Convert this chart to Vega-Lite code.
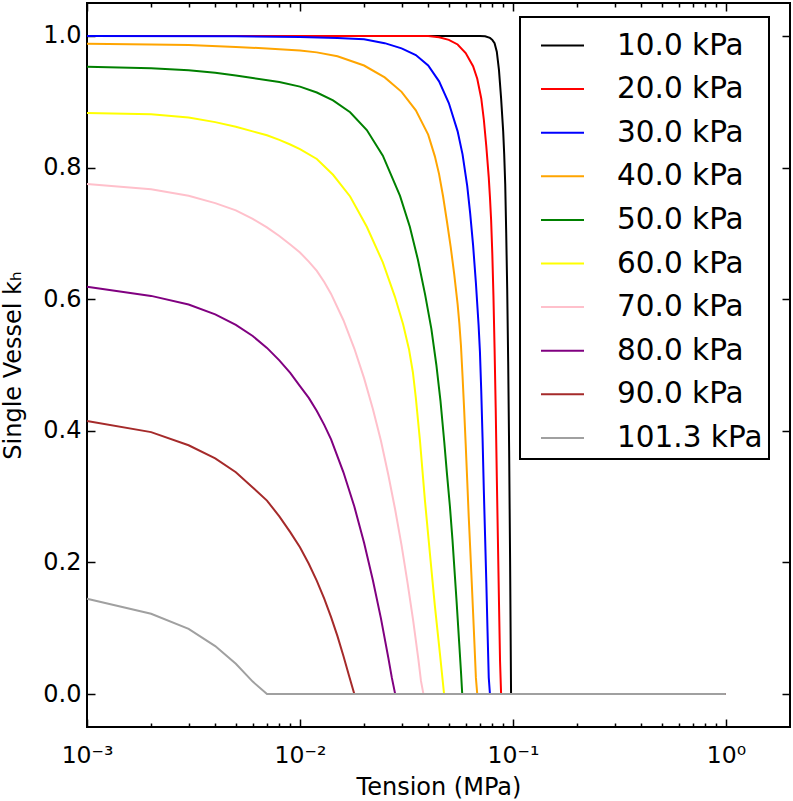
{
  "$schema": "https://vega.github.io/schema/vega-lite/v6.json",
  "width": 703,
  "height": 724,
  "autosize": {"type": "none"},
  "padding": {"left": 87, "top": 3, "right": 3, "bottom": 74},
  "background": "white",
  "config": {
    "font": "DejaVu Sans",
    "view": {"stroke": "black", "strokeWidth": 2},
    "axis": {"grid": false, "domain": false, "labelColor": "black", "titleColor": "black", "tickColor": "black", "tickWidth": 1.5, "labelFont": "DejaVu Sans", "titleFont": "DejaVu Sans", "titleFontWeight": "normal"}
  },
  "datasets": {
    "curves": [
      {"P": "10.0 kPa", "T": 0.001, "k": 1},
      {"P": "10.0 kPa", "T": 0.07, "k": 1},
      {"P": "10.0 kPa", "T": 0.074, "k": 0.9995},
      {"P": "10.0 kPa", "T": 0.078, "k": 0.997},
      {"P": "10.0 kPa", "T": 0.08, "k": 0.994},
      {"P": "10.0 kPa", "T": 0.082, "k": 0.989},
      {"P": "10.0 kPa", "T": 0.084, "k": 0.976},
      {"P": "10.0 kPa", "T": 0.086, "k": 0.948},
      {"P": "10.0 kPa", "T": 0.088, "k": 0.905},
      {"P": "10.0 kPa", "T": 0.09, "k": 0.855},
      {"P": "10.0 kPa", "T": 0.091, "k": 0.82},
      {"P": "10.0 kPa", "T": 0.092, "k": 0.775},
      {"P": "10.0 kPa", "T": 0.093, "k": 0.7},
      {"P": "10.0 kPa", "T": 0.094, "k": 0.615},
      {"P": "10.0 kPa", "T": 0.095, "k": 0.505},
      {"P": "10.0 kPa", "T": 0.096, "k": 0.37},
      {"P": "10.0 kPa", "T": 0.097, "k": 0.2},
      {"P": "10.0 kPa", "T": 0.098, "k": 0},
      {"P": "10.0 kPa", "T": 1, "k": 0},

      {"P": "20.0 kPa", "T": 0.001, "k": 1},
      {"P": "20.0 kPa", "T": 0.04, "k": 1},
      {"P": "20.0 kPa", "T": 0.045, "k": 0.998},
      {"P": "20.0 kPa", "T": 0.05, "k": 0.994},
      {"P": "20.0 kPa", "T": 0.055, "k": 0.987},
      {"P": "20.0 kPa", "T": 0.06, "k": 0.974},
      {"P": "20.0 kPa", "T": 0.065, "k": 0.954},
      {"P": "20.0 kPa", "T": 0.068, "k": 0.935},
      {"P": "20.0 kPa", "T": 0.071, "k": 0.905},
      {"P": "20.0 kPa", "T": 0.073, "k": 0.873},
      {"P": "20.0 kPa", "T": 0.075, "k": 0.832},
      {"P": "20.0 kPa", "T": 0.077, "k": 0.785},
      {"P": "20.0 kPa", "T": 0.078, "k": 0.755},
      {"P": "20.0 kPa", "T": 0.079, "k": 0.72},
      {"P": "20.0 kPa", "T": 0.08, "k": 0.67},
      {"P": "20.0 kPa", "T": 0.081, "k": 0.605},
      {"P": "20.0 kPa", "T": 0.082, "k": 0.525},
      {"P": "20.0 kPa", "T": 0.083, "k": 0.435},
      {"P": "20.0 kPa", "T": 0.084, "k": 0.33},
      {"P": "20.0 kPa", "T": 0.085, "k": 0.235},
      {"P": "20.0 kPa", "T": 0.086, "k": 0.14},
      {"P": "20.0 kPa", "T": 0.087, "k": 0.05},
      {"P": "20.0 kPa", "T": 0.088, "k": 0},
      {"P": "20.0 kPa", "T": 1, "k": 0},

      {"P": "30.0 kPa", "T": 0.001, "k": 1},
      {"P": "30.0 kPa", "T": 0.005, "k": 0.9995},
      {"P": "30.0 kPa", "T": 0.01, "k": 0.9985},
      {"P": "30.0 kPa", "T": 0.015, "k": 0.997},
      {"P": "30.0 kPa", "T": 0.02, "k": 0.995},
      {"P": "30.0 kPa", "T": 0.025, "k": 0.989},
      {"P": "30.0 kPa", "T": 0.03, "k": 0.981},
      {"P": "30.0 kPa", "T": 0.035, "k": 0.971},
      {"P": "30.0 kPa", "T": 0.04, "k": 0.955},
      {"P": "30.0 kPa", "T": 0.045, "k": 0.931},
      {"P": "30.0 kPa", "T": 0.05, "k": 0.898},
      {"P": "30.0 kPa", "T": 0.055, "k": 0.855},
      {"P": "30.0 kPa", "T": 0.058, "k": 0.82},
      {"P": "30.0 kPa", "T": 0.061, "k": 0.772},
      {"P": "30.0 kPa", "T": 0.063, "k": 0.73},
      {"P": "30.0 kPa", "T": 0.065, "k": 0.682},
      {"P": "30.0 kPa", "T": 0.067, "k": 0.625},
      {"P": "30.0 kPa", "T": 0.069, "k": 0.56},
      {"P": "30.0 kPa", "T": 0.07, "k": 0.52},
      {"P": "30.0 kPa", "T": 0.071, "k": 0.46},
      {"P": "30.0 kPa", "T": 0.072, "k": 0.39},
      {"P": "30.0 kPa", "T": 0.073, "k": 0.31},
      {"P": "30.0 kPa", "T": 0.074, "k": 0.24},
      {"P": "30.0 kPa", "T": 0.075, "k": 0.17},
      {"P": "30.0 kPa", "T": 0.076, "k": 0.095},
      {"P": "30.0 kPa", "T": 0.077, "k": 0.025},
      {"P": "30.0 kPa", "T": 0.078, "k": 0},
      {"P": "30.0 kPa", "T": 1, "k": 0},

      {"P": "40.0 kPa", "T": 0.001, "k": 0.988},
      {"P": "40.0 kPa", "T": 0.002, "k": 0.987},
      {"P": "40.0 kPa", "T": 0.003, "k": 0.986},
      {"P": "40.0 kPa", "T": 0.005, "k": 0.983},
      {"P": "40.0 kPa", "T": 0.007, "k": 0.981},
      {"P": "40.0 kPa", "T": 0.01, "k": 0.978},
      {"P": "40.0 kPa", "T": 0.012, "k": 0.975},
      {"P": "40.0 kPa", "T": 0.015, "k": 0.969},
      {"P": "40.0 kPa", "T": 0.02, "k": 0.955},
      {"P": "40.0 kPa", "T": 0.025, "k": 0.937},
      {"P": "40.0 kPa", "T": 0.03, "k": 0.915},
      {"P": "40.0 kPa", "T": 0.035, "k": 0.887},
      {"P": "40.0 kPa", "T": 0.04, "k": 0.85},
      {"P": "40.0 kPa", "T": 0.043, "k": 0.817},
      {"P": "40.0 kPa", "T": 0.045, "k": 0.79},
      {"P": "40.0 kPa", "T": 0.047, "k": 0.756},
      {"P": "40.0 kPa", "T": 0.049, "k": 0.718},
      {"P": "40.0 kPa", "T": 0.051, "k": 0.68},
      {"P": "40.0 kPa", "T": 0.053, "k": 0.638},
      {"P": "40.0 kPa", "T": 0.055, "k": 0.592},
      {"P": "40.0 kPa", "T": 0.056, "k": 0.564},
      {"P": "40.0 kPa", "T": 0.057, "k": 0.53},
      {"P": "40.0 kPa", "T": 0.058, "k": 0.483},
      {"P": "40.0 kPa", "T": 0.059, "k": 0.433},
      {"P": "40.0 kPa", "T": 0.06, "k": 0.38},
      {"P": "40.0 kPa", "T": 0.061, "k": 0.325},
      {"P": "40.0 kPa", "T": 0.062, "k": 0.27},
      {"P": "40.0 kPa", "T": 0.063, "k": 0.222},
      {"P": "40.0 kPa", "T": 0.064, "k": 0.173},
      {"P": "40.0 kPa", "T": 0.065, "k": 0.124},
      {"P": "40.0 kPa", "T": 0.066, "k": 0.075},
      {"P": "40.0 kPa", "T": 0.067, "k": 0.025},
      {"P": "40.0 kPa", "T": 0.068, "k": 0},
      {"P": "40.0 kPa", "T": 1, "k": 0},

      {"P": "50.0 kPa", "T": 0.001, "k": 0.953},
      {"P": "50.0 kPa", "T": 0.002, "k": 0.951},
      {"P": "50.0 kPa", "T": 0.003, "k": 0.948},
      {"P": "50.0 kPa", "T": 0.004, "k": 0.944},
      {"P": "50.0 kPa", "T": 0.005, "k": 0.94},
      {"P": "50.0 kPa", "T": 0.006, "k": 0.936},
      {"P": "50.0 kPa", "T": 0.008, "k": 0.93},
      {"P": "50.0 kPa", "T": 0.01, "k": 0.923},
      {"P": "50.0 kPa", "T": 0.012, "k": 0.914},
      {"P": "50.0 kPa", "T": 0.0143, "k": 0.902},
      {"P": "50.0 kPa", "T": 0.0172, "k": 0.884},
      {"P": "50.0 kPa", "T": 0.0206, "k": 0.857},
      {"P": "50.0 kPa", "T": 0.0245, "k": 0.818},
      {"P": "50.0 kPa", "T": 0.0295, "k": 0.757},
      {"P": "50.0 kPa", "T": 0.0328, "k": 0.71},
      {"P": "50.0 kPa", "T": 0.0358, "k": 0.66},
      {"P": "50.0 kPa", "T": 0.0387, "k": 0.607},
      {"P": "50.0 kPa", "T": 0.0414, "k": 0.555},
      {"P": "50.0 kPa", "T": 0.0437, "k": 0.5},
      {"P": "50.0 kPa", "T": 0.0457, "k": 0.445},
      {"P": "50.0 kPa", "T": 0.0476, "k": 0.383},
      {"P": "50.0 kPa", "T": 0.049, "k": 0.335},
      {"P": "50.0 kPa", "T": 0.0506, "k": 0.285},
      {"P": "50.0 kPa", "T": 0.052, "k": 0.235},
      {"P": "50.0 kPa", "T": 0.0544, "k": 0.14},
      {"P": "50.0 kPa", "T": 0.056, "k": 0.075},
      {"P": "50.0 kPa", "T": 0.057, "k": 0.035},
      {"P": "50.0 kPa", "T": 0.0578, "k": 0},
      {"P": "50.0 kPa", "T": 1, "k": 0},

      {"P": "60.0 kPa", "T": 0.001, "k": 0.883},
      {"P": "60.0 kPa", "T": 0.002, "k": 0.881},
      {"P": "60.0 kPa", "T": 0.003, "k": 0.876},
      {"P": "60.0 kPa", "T": 0.004, "k": 0.869},
      {"P": "60.0 kPa", "T": 0.005, "k": 0.862},
      {"P": "60.0 kPa", "T": 0.006, "k": 0.855},
      {"P": "60.0 kPa", "T": 0.007, "k": 0.849},
      {"P": "60.0 kPa", "T": 0.008, "k": 0.842},
      {"P": "60.0 kPa", "T": 0.009, "k": 0.835},
      {"P": "60.0 kPa", "T": 0.01, "k": 0.828},
      {"P": "60.0 kPa", "T": 0.012, "k": 0.813},
      {"P": "60.0 kPa", "T": 0.0143, "k": 0.789},
      {"P": "60.0 kPa", "T": 0.0172, "k": 0.756},
      {"P": "60.0 kPa", "T": 0.0206, "k": 0.71},
      {"P": "60.0 kPa", "T": 0.0245, "k": 0.656},
      {"P": "60.0 kPa", "T": 0.0279, "k": 0.604},
      {"P": "60.0 kPa", "T": 0.0305, "k": 0.562},
      {"P": "60.0 kPa", "T": 0.0325, "k": 0.524},
      {"P": "60.0 kPa", "T": 0.0339, "k": 0.489},
      {"P": "60.0 kPa", "T": 0.035, "k": 0.45},
      {"P": "60.0 kPa", "T": 0.0366, "k": 0.385},
      {"P": "60.0 kPa", "T": 0.0386, "k": 0.295},
      {"P": "60.0 kPa", "T": 0.0408, "k": 0.212},
      {"P": "60.0 kPa", "T": 0.043, "k": 0.134},
      {"P": "60.0 kPa", "T": 0.0454, "k": 0.062},
      {"P": "60.0 kPa", "T": 0.0475, "k": 0},
      {"P": "60.0 kPa", "T": 1, "k": 0},

      {"P": "70.0 kPa", "T": 0.001, "k": 0.775},
      {"P": "70.0 kPa", "T": 0.002, "k": 0.767},
      {"P": "70.0 kPa", "T": 0.003, "k": 0.757},
      {"P": "70.0 kPa", "T": 0.004, "k": 0.746},
      {"P": "70.0 kPa", "T": 0.005, "k": 0.735},
      {"P": "70.0 kPa", "T": 0.006, "k": 0.722},
      {"P": "70.0 kPa", "T": 0.007, "k": 0.709},
      {"P": "70.0 kPa", "T": 0.008, "k": 0.696},
      {"P": "70.0 kPa", "T": 0.009, "k": 0.683},
      {"P": "70.0 kPa", "T": 0.01, "k": 0.671},
      {"P": "70.0 kPa", "T": 0.011, "k": 0.657},
      {"P": "70.0 kPa", "T": 0.012, "k": 0.643},
      {"P": "70.0 kPa", "T": 0.013, "k": 0.626},
      {"P": "70.0 kPa", "T": 0.014, "k": 0.608},
      {"P": "70.0 kPa", "T": 0.016, "k": 0.568},
      {"P": "70.0 kPa", "T": 0.018, "k": 0.525},
      {"P": "70.0 kPa", "T": 0.02, "k": 0.48},
      {"P": "70.0 kPa", "T": 0.022, "k": 0.433},
      {"P": "70.0 kPa", "T": 0.024, "k": 0.385},
      {"P": "70.0 kPa", "T": 0.026, "k": 0.333},
      {"P": "70.0 kPa", "T": 0.028, "k": 0.28},
      {"P": "70.0 kPa", "T": 0.03, "k": 0.226},
      {"P": "70.0 kPa", "T": 0.032, "k": 0.169},
      {"P": "70.0 kPa", "T": 0.034, "k": 0.112},
      {"P": "70.0 kPa", "T": 0.036, "k": 0.052},
      {"P": "70.0 kPa", "T": 0.037, "k": 0.02},
      {"P": "70.0 kPa", "T": 0.038, "k": 0},
      {"P": "70.0 kPa", "T": 1, "k": 0},

      {"P": "80.0 kPa", "T": 0.001, "k": 0.619},
      {"P": "80.0 kPa", "T": 0.002, "k": 0.605},
      {"P": "80.0 kPa", "T": 0.003, "k": 0.592},
      {"P": "80.0 kPa", "T": 0.004, "k": 0.577},
      {"P": "80.0 kPa", "T": 0.005, "k": 0.561},
      {"P": "80.0 kPa", "T": 0.006, "k": 0.544},
      {"P": "80.0 kPa", "T": 0.007, "k": 0.526},
      {"P": "80.0 kPa", "T": 0.008, "k": 0.507},
      {"P": "80.0 kPa", "T": 0.009, "k": 0.488},
      {"P": "80.0 kPa", "T": 0.01, "k": 0.468},
      {"P": "80.0 kPa", "T": 0.011, "k": 0.45},
      {"P": "80.0 kPa", "T": 0.012, "k": 0.43},
      {"P": "80.0 kPa", "T": 0.013, "k": 0.409},
      {"P": "80.0 kPa", "T": 0.014, "k": 0.387},
      {"P": "80.0 kPa", "T": 0.016, "k": 0.337},
      {"P": "80.0 kPa", "T": 0.018, "k": 0.285},
      {"P": "80.0 kPa", "T": 0.02, "k": 0.23},
      {"P": "80.0 kPa", "T": 0.022, "k": 0.173},
      {"P": "80.0 kPa", "T": 0.024, "k": 0.115},
      {"P": "80.0 kPa", "T": 0.026, "k": 0.055},
      {"P": "80.0 kPa", "T": 0.027, "k": 0.025},
      {"P": "80.0 kPa", "T": 0.028, "k": 0},
      {"P": "80.0 kPa", "T": 1, "k": 0},

      {"P": "90.0 kPa", "T": 0.001, "k": 0.415},
      {"P": "90.0 kPa", "T": 0.002, "k": 0.398},
      {"P": "90.0 kPa", "T": 0.003, "k": 0.378},
      {"P": "90.0 kPa", "T": 0.004, "k": 0.358},
      {"P": "90.0 kPa", "T": 0.005, "k": 0.337},
      {"P": "90.0 kPa", "T": 0.006, "k": 0.314},
      {"P": "90.0 kPa", "T": 0.007, "k": 0.294},
      {"P": "90.0 kPa", "T": 0.008, "k": 0.27},
      {"P": "90.0 kPa", "T": 0.009, "k": 0.246},
      {"P": "90.0 kPa", "T": 0.01, "k": 0.223},
      {"P": "90.0 kPa", "T": 0.011, "k": 0.198},
      {"P": "90.0 kPa", "T": 0.012, "k": 0.172},
      {"P": "90.0 kPa", "T": 0.013, "k": 0.145},
      {"P": "90.0 kPa", "T": 0.014, "k": 0.117},
      {"P": "90.0 kPa", "T": 0.015, "k": 0.088},
      {"P": "90.0 kPa", "T": 0.016, "k": 0.058},
      {"P": "90.0 kPa", "T": 0.017, "k": 0.028},
      {"P": "90.0 kPa", "T": 0.018, "k": 0},
      {"P": "90.0 kPa", "T": 1, "k": 0},

      {"P": "101.3 kPa", "T": 0.001, "k": 0.145},
      {"P": "101.3 kPa", "T": 0.002, "k": 0.122},
      {"P": "101.3 kPa", "T": 0.003, "k": 0.099},
      {"P": "101.3 kPa", "T": 0.004, "k": 0.073},
      {"P": "101.3 kPa", "T": 0.005, "k": 0.046},
      {"P": "101.3 kPa", "T": 0.006, "k": 0.019},
      {"P": "101.3 kPa", "T": 0.007, "k": 0},
      {"P": "101.3 kPa", "T": 1, "k": 0}
    ],
    "anchor": [{"T": 0.001, "k": 0}]
  },
  "resolve": {"axis": {"x": "independent", "y": "independent"}},
  "layer": [
    {
      "data": {"name": "curves"},
      "mark": {"type": "line", "strokeWidth": 2},
      "encoding": {
        "x": {
          "field": "T", "type": "quantitative",
          "scale": {"type": "log", "domain": [0.001, 2], "nice": false},
          "axis": {
            "orient": "bottom", "values": [0.001, 0.01, 0.1, 1],
            "labelExpr": "datum.value == 0.001 ? '10⁻³' : datum.value == 0.01 ? '10⁻²' : datum.value == 0.1 ? '10⁻¹' : '10⁰'",
            "ticks": false, "labelFontSize": 23.5, "labelPadding": 16,
            "labelFlush": false, "labelOverlap": false,
            "title": "Tension (MPa)", "titleFontSize": 24, "titlePadding": 9
          }
        },
        "y": {
          "field": "k", "type": "quantitative",
          "scale": {"domain": [-0.05, 1.05], "nice": false, "zero": false},
          "axis": {
            "orient": "left", "values": [0, 0.2, 0.4, 0.6, 0.8, 1.0], "format": ".1f",
            "ticks": false, "labelFontSize": 24, "labelPadding": 6,
            "labelFlush": false, "labelOverlap": false,
            "title": "Single Vessel kₕ", "titleFontSize": 24, "titlePadding": 17
          }
        },
        "color": {
          "field": "P", "type": "nominal",
          "scale": {
            "domain": ["10.0 kPa", "20.0 kPa", "30.0 kPa", "40.0 kPa", "50.0 kPa", "60.0 kPa", "70.0 kPa", "80.0 kPa", "90.0 kPa", "101.3 kPa"],
            "range": ["#000000", "#ff0000", "#0000ff", "#ffa500", "#008000", "#ffff00", "#ffc0cb", "#800080", "#a52a2a", "#a0a0a0"]
          },
          "legend": {
            "orient": "none", "legendX": 433, "legendY": 14, "title": null,
            "symbolType": "stroke", "symbolSize": 1849, "symbolStrokeWidth": 2,
            "labelFontSize": 29.5, "labelFont": "DejaVu Sans", "labelColor": "black", "labelLimit": 400,
            "labelOffset": 32, "symbolOffset": 14, "rowPadding": 6.6,
            "padding": 6, "strokeColor": "black", "fillColor": "white",
            "encode": {"legend": {"update": {"strokeWidth": {"value": 2}}}}
          }
        }
      }
    },
    {
      "data": {"name": "anchor"},
      "mark": {"type": "point", "opacity": 0},
      "encoding": {
        "x": {"field": "T", "type": "quantitative", "scale": {"type": "log", "domain": [0.001, 2], "nice": false},
          "axis": {"orient": "bottom", "values": [0.001, 0.01, 0.1, 1], "labels": false, "tickSize": -8, "title": null}},
        "y": {"field": "k", "type": "quantitative", "scale": {"domain": [-0.05, 1.05], "nice": false, "zero": false},
          "axis": {"orient": "left", "values": [0, 0.2, 0.4, 0.6, 0.8, 1.0], "labels": false, "tickSize": -8, "title": null}}
      }
    },
    {
      "data": {"name": "anchor"},
      "mark": {"type": "point", "opacity": 0},
      "encoding": {
        "x": {"field": "T", "type": "quantitative", "scale": {"type": "log", "domain": [0.001, 2], "nice": false},
          "axis": {"orient": "bottom", "values": [0.002, 0.003, 0.004, 0.005, 0.006, 0.007, 0.008, 0.009, 0.02, 0.03, 0.04, 0.05, 0.06, 0.07, 0.08, 0.09, 0.2, 0.3, 0.4, 0.5, 0.6, 0.7, 0.8, 0.9], "labels": false, "tickSize": -4, "title": null}},
        "y": {"field": "k", "type": "quantitative", "scale": {"domain": [-0.05, 1.05], "nice": false, "zero": false},
          "axis": {"orient": "right", "values": [0, 0.2, 0.4, 0.6, 0.8, 1.0], "labels": false, "tickSize": -8, "title": null}}
      }
    },
    {
      "data": {"name": "anchor"},
      "mark": {"type": "point", "opacity": 0},
      "encoding": {
        "x": {"field": "T", "type": "quantitative", "scale": {"type": "log", "domain": [0.001, 2], "nice": false},
          "axis": {"orient": "top", "values": [0.001, 0.01, 0.1, 1], "labels": false, "tickSize": -8, "title": null}},
        "y": {"field": "k", "type": "quantitative", "scale": {"domain": [-0.05, 1.05], "nice": false, "zero": false}, "axis": null}
      }
    },
    {
      "data": {"name": "anchor"},
      "mark": {"type": "point", "opacity": 0},
      "encoding": {
        "x": {"field": "T", "type": "quantitative", "scale": {"type": "log", "domain": [0.001, 2], "nice": false},
          "axis": {"orient": "top", "values": [0.002, 0.003, 0.004, 0.005, 0.006, 0.007, 0.008, 0.009, 0.02, 0.03, 0.04, 0.05, 0.06, 0.07, 0.08, 0.09, 0.2, 0.3, 0.4, 0.5, 0.6, 0.7, 0.8, 0.9], "labels": false, "tickSize": -4, "title": null}},
        "y": {"field": "k", "type": "quantitative", "scale": {"domain": [-0.05, 1.05], "nice": false, "zero": false}, "axis": null}
      }
    }
  ]
}
